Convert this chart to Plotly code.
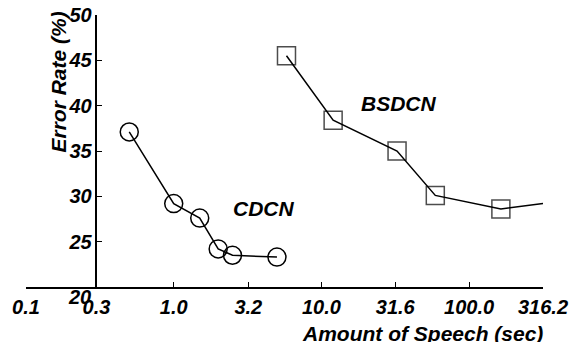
import math
import plotly.graph_objects as go

# Data
cdcn_x = [0.5, 1.0, 1.5, 2.0, 2.5, 5.0]
cdcn_y = [37.1, 29.2, 27.6, 24.2, 23.5, 23.3]

bsdcn_x = [5.8, 12.0, 32.5, 59.0, 164.0, 316.2]
bsdcn_y = [45.5, 38.4, 35.0, 30.1, 28.6, 29.2]
bsdcn_marker_sizes = [18, 18, 18, 18, 18, 0]

x_tick_vals = [0.1, 0.3, 1.0, 3.2, 10.0, 31.6, 100.0, 316.2]
x_tick_text = ["0.1", "0.3", "1.0", "3.2", "10.0", "31.6", "100.0", "316.2"]
y_tick_vals = [20, 25, 30, 35, 40, 45, 50]
y_tick_text = ["", "25", "30", "35", "40", "45", "50"]

FONT = "Liberation Sans, Arial, Helvetica, sans-serif"

def bi(size):
    return dict(family=FONT, size=size, color="black", weight="bold", style="italic")

def bit(labels):
    return ["<b><i>%s</i></b>" % t if t else "" for t in labels]

fig = go.Figure()
fig.add_trace(go.Scatter(
    x=cdcn_x, y=cdcn_y, mode="lines+markers",
    line=dict(color="black", width=1.5),
    marker=dict(symbol="circle-open", size=18, color="black", line=dict(width=1.5, color="black")),
    showlegend=False, name="CDCN",
))
fig.add_trace(go.Scatter(
    x=bsdcn_x, y=bsdcn_y, mode="lines+markers",
    line=dict(color="black", width=1.5),
    marker=dict(symbol="square-open", size=bsdcn_marker_sizes, color="black", line=dict(width=1.5, color="black")),
    showlegend=False, name="BSDCN",
))

fig.update_layout(
    width=574, height=342,
    margin=dict(l=26, r=31, t=15, b=55, autoexpand=False),
    paper_bgcolor="white", plot_bgcolor="white",
    xaxis=dict(
        type="log", range=[-1, math.log10(316.2)],
        tickvals=x_tick_vals, ticktext=bit(x_tick_text),
        ticks="inside", ticklen=5, tickwidth=1.2, tickcolor="black",
        showline=True, linecolor="black", linewidth=1.5,
        showgrid=False, zeroline=False, automargin=False,
        tickfont=bi(20), ticklabelstandoff=1,
    ),
    yaxis=dict(
        range=[20, 50], anchor="free", position=(math.log10(0.3) + 1) / (math.log10(316.2) + 1),
        tickvals=y_tick_vals, ticktext=bit(y_tick_text),
        ticks="inside", ticklen=5, tickwidth=1.2, tickcolor="black",
        showline=True, linecolor="black", linewidth=1.5,
        showgrid=False, zeroline=False, automargin=False,
        tickfont=bi(20),
    ),
    annotations=[
        dict(text="20", x=math.log10(0.3), y=20, xref="x", yref="y",
             xanchor="right", yanchor="top", xshift=-3, yshift=3,
             showarrow=False, font=bi(20)),
        dict(text="Error Rate (%)", x=0.062, y=0.752, xref="paper", yref="paper",
             xanchor="center", yanchor="middle", textangle=-90,
             showarrow=False, font=bi(21)),
        dict(text="Amount of Speech (sec)", x=0.766, y=-0.172, xref="paper", yref="paper",
             xanchor="center", yanchor="middle", showarrow=False, font=bi(21)),
        dict(text="BSDCN", x=1.525, y=40.2, xref="x", yref="y",
             xanchor="center", yanchor="middle", showarrow=False, font=bi(21)),
        dict(text="CDCN", x=0.605, y=28.7, xref="x", yref="y",
             xanchor="center", yanchor="middle", showarrow=False, font=bi(21)),
    ],
)

fig.write_html("out.html", config={"displayModeBar": False},
               post_script="document.body.style.margin='0';")
